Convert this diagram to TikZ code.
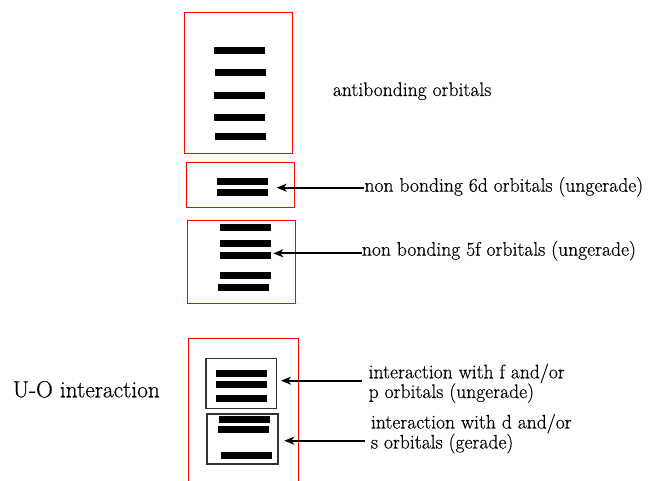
\documentclass[tikz,border=0pt]{standalone}
\usepackage{fontspec}
\newfontfamily\lblfont{Latin Modern Roman}[FakeBold=0.5]
\usetikzlibrary{arrows.meta}
\begin{document}
\begin{tikzpicture}[x=1pt,y=-1pt,
  redbox/.style={draw=red, line width=1pt},
  innerbox/.style={draw=black!80, line width=1.2pt},
  bar/.style={fill=black},
  arr/.style={line width=1.7pt, -{Stealth[length=10pt,width=8pt,inset=3pt]}},
  lbl/.style={font=\lblfont\fontsize{19.6}{20}\selectfont, inner sep=0pt, anchor=base west},
  biglbl/.style={font=\lblfont\fontsize{23.3}{24}\selectfont, inner sep=0pt, anchor=base west}]
\useasboundingbox (0,0) rectangle (650,481);
% level boxes
\draw[redbox] (184.3,12.7) rectangle (292.7,154);
\draw[redbox] (186,162.7) rectangle (294,207.3);
\draw[redbox] (187.3,220) rectangle (295,303.3);
\draw[redbox] (188.3,481) |- (298.7,338.7) -- (298.7,481);
\draw[innerbox] (206,358.3) rectangle (276.7,408.7);
\draw[innerbox] (207,414) rectangle (278,464);
% bars
\foreach \xa/\xb/\yc in {214/265/50.7, 215/266/72.3, 214/265/95.3, 214/265/117.3, 215/266/136.3,
  217/267.7/181.3, 217/267.7/192.7,
  220/271/227.3, 220/271/243.3, 220/271/255.3, 220/271/275.3, 218/269/287.3,
  216/266.7/373.3, 216/266.7/384.3, 216/266.7/398.3,
  219/270/419.3, 218/269/429.3, 221/271.7/455.3}
  \fill[bar] (\xa,\yc-3.35) rectangle (\xb,\yc+3.35);
% labels
\node[lbl] (tanti) at (332.7,96) {antibonding orbitals};
\node[lbl] (t6d) at (364.3,191.7) {non bonding 6d orbitals (ungerade)};
\node[lbl] (t5f) at (361.7,255.7) {non bonding 5f orbitals (ungerade)};
\node[biglbl] (tuo) at (12.7,397.3) {U-O interaction};
\node[lbl] (tA1) at (368.5,378.3) {interaction with f and/or};
\node[lbl] (tA2) at (368.5,398) {p orbitals (ungerade)};
\node[lbl] (tB1) at (370.8,428.5) {interaction with d and/or};
\node[lbl] (tB2) at (370.8,448.5) {s orbitals (gerade)};
% arrow tips
\coordinate (p6d) at (276.7,187.7);
\coordinate (p5f) at (273.3,253.3);
\coordinate (pA) at (281,380.7);
\coordinate (pB) at (284.3,440.7);
\draw[arr] (t6d.west |- p6d) -- (p6d);
\draw[arr] (t5f.west |- p5f) -- (p5f);
\draw[arr] ([xshift=-6.5pt]tA1.west |- pA) -- (pA);
\draw[arr] ([xshift=-6pt]tB1.west |- pB) -- (pB);
\end{tikzpicture}
\end{document}
